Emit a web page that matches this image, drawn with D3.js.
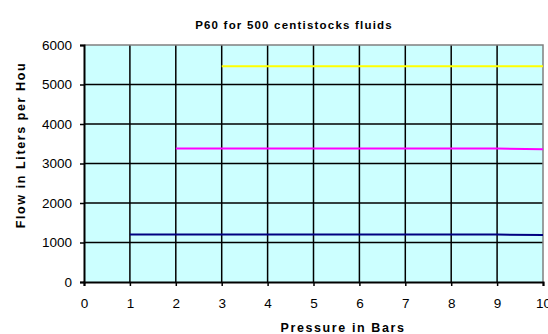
<!DOCTYPE html>
<html>
<head>
<meta charset="utf-8">
<script src="https://cdn.jsdelivr.net/npm/d3@7"></script>
<style>
  body { margin: 0; background: #fff; }
  svg { display: block; font-family: "Liberation Sans", Arial, sans-serif; }
</style>
</head>
<body>
<svg width="548" height="334"></svg>
<script>
// chart data
var xTicks = [0, 1, 2, 3, 4, 5, 6, 7, 8, 9, 10];
var yTicks = [0, 1000, 2000, 3000, 4000, 5000, 6000];
var bluePressure = [1, 2, 3, 4, 5, 6, 7, 8, 9, 10];
var blueFlow = [1200, 1200, 1200, 1200, 1200, 1200, 1200, 1200, 1200, 1190];
var magentaPressure = [2, 3, 4, 5, 6, 7, 8, 9, 10];
var magentaFlow = [3380, 3380, 3380, 3380, 3380, 3380, 3380, 3380, 3360];
var yellowPressure = [3, 4, 5, 6, 7, 8, 9, 10];
var yellowFlow = [5460, 5460, 5460, 5460, 5460, 5460, 5460, 5460];

var series = [
  {color: "#000080", xs: bluePressure, ys: blueFlow},
  {color: "#ff00ff", xs: magentaPressure, ys: magentaFlow},
  {color: "#ffff00", xs: yellowPressure, ys: yellowFlow}
];

var svg = d3.select("svg"),
    margin = {top: 45, right: 5, bottom: 52, left: 84},
    width = 548 - margin.left - margin.right,
    height = 334 - margin.top - margin.bottom;

var x = d3.scaleLinear().domain([0, 10]).range([0, 459]),
    y = d3.scaleLinear().domain([0, 6000]).range([height, 0]);

var g = svg.append("g")
  .attr("transform", "translate(" + margin.left + "," + margin.top + ")");

// plot background
g.append("rect")
  .attr("width", x(10))
  .attr("height", height)
  .attr("fill", "#ccffff");

// grid
g.selectAll(".hgrid").data(yTicks.slice(1, -1))
  .enter().append("line")
  .attr("x1", 0).attr("x2", x(10))
  .attr("y1", function(d) { return y(d); })
  .attr("y2", function(d) { return y(d); })
  .attr("stroke", "#000").attr("stroke-width", 1.5);

g.selectAll(".vgrid").data(xTicks.slice(1, -1))
  .enter().append("line")
  .attr("x1", function(d) { return x(d); })
  .attr("x2", function(d) { return x(d); })
  .attr("y1", 0).attr("y2", height)
  .attr("stroke", "#000").attr("stroke-width", 1.5);

// gray frame top/right
g.append("path")
  .attr("d", "M0," + y(6000) + "H" + x(10) + "V" + y(0))
  .attr("fill", "none")
  .attr("stroke", "#808080")
  .attr("stroke-width", 1.5);

// series
var line = d3.line()
  .x(function(d) { return x(d[0]); })
  .y(function(d) { return y(d[1]); });

series.forEach(function(s) {
  g.append("path")
    .datum(d3.zip(s.xs, s.ys))
    .attr("d", line)
    .attr("fill", "none")
    .attr("stroke", s.color)
    .attr("stroke-width", 2);
});

// axes
var xAxis = g.append("g")
  .attr("transform", "translate(0," + height + ")")
  .call(d3.axisBottom(x).tickValues(xTicks).tickFormat(d3.format("d"))
    .tickSize(4).tickPadding(12));

var yAxis = g.append("g")
  .call(d3.axisLeft(y).tickValues(yTicks).tickFormat(d3.format("d"))
    .tickSize(4).tickPadding(8));

[xAxis, yAxis].forEach(function(a) {
  a.select(".domain").attr("stroke", "#000").attr("stroke-width", 2);
  a.selectAll(".tick line").attr("stroke", "#000").attr("stroke-width", 1.5);
  a.selectAll(".tick text")
    .attr("fill", "#000")
    .style("font-size", "13.5px")
    .style("font-family", "'Liberation Sans', Arial, sans-serif");
});

// titles
svg.append("text")
  .attr("x", 294)
  .attr("y", 29)
  .attr("text-anchor", "middle")
  .style("font-size", "11.5px")
  .style("font-weight", "bold")
  .style("letter-spacing", "1.2px")
  .text("P60 for 500 centistocks fluids");

svg.append("text")
  .attr("x", 343)
  .attr("y", 332)
  .attr("text-anchor", "middle")
  .style("font-size", "12.5px")
  .style("font-weight", "bold")
  .style("letter-spacing", "1.6px")
  .text("Pressure in Bars");

svg.append("text")
  .attr("transform", "translate(25,145) rotate(-90)")
  .attr("text-anchor", "middle")
  .style("font-size", "12.5px")
  .style("font-weight", "bold")
  .style("letter-spacing", "1.6px")
  .text("Flow in Liters per Hou");
</script>
</body>
</html>
